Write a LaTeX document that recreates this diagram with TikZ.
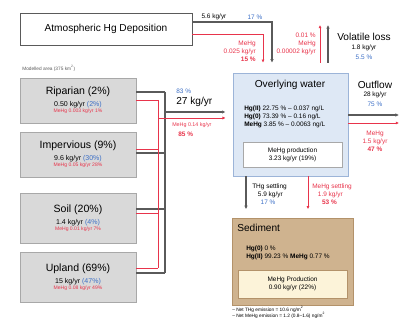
\documentclass[tikz,border=0pt]{standalone}
\usepackage{fontspec}
\setmainfont{Liberation Sans}
\usetikzlibrary{arrows.meta, positioning}

\definecolor{hgred}{HTML}{E8344B}
\definecolor{hgblue}{HTML}{3C6FC6}
\definecolor{hggray}{HTML}{5A5A5A}
\definecolor{boxfill}{HTML}{D9D9D9}
\definecolor{boxline}{HTML}{A8A8A8}
\definecolor{waterfill}{HTML}{DEE8F5}
\definecolor{waterline}{HTML}{9CB4D8}
\definecolor{sedfill}{HTML}{CFB38F}
\definecolor{sedline}{HTML}{B3926A}
\definecolor{prodfill}{HTML}{FCF3D9}

\begin{document}
\begin{tikzpicture}[
  x=0.025cm, y=-0.025cm,
  srcbox/.style={rectangle, draw=boxline, fill=boxfill, minimum width=2.9cm, inner sep=0pt, align=center, font=\fontsize{5}{5.5}\selectfont},
  titlebox/.style={rectangle, draw=hggray, fill=white, minimum width=4.3cm, minimum height=0.8cm, font=\fontsize{7.2}{8}\selectfont},
  gline/.style={hggray, line width=0.8pt},
  rline/.style={hgred, line width=0.5pt},
  garrow/.style={gline, -{Latex[length=2.5pt, width=2.5pt]}},
  rarrow/.style={rline, -{Latex[length=2.2pt, width=2.2pt]}},
  big/.style={font=\fontsize{7.2}{8}\selectfont, inner sep=0pt},
  num/.style={font=\fontsize{4.6}{5.6}\selectfont, inner sep=0pt, align=center},
  rednum/.style={num, text=hgred},
  tiny/.style={font=\fontsize{3.4}{4.4}\selectfont, inner sep=0pt, align=left}
]

% frame
\useasboundingbox (0,0) rectangle (400,320);

% atmosphere
\node[titlebox] (atm) at (106,29) {Atmospheric Hg Deposition};
\node[tiny, text=hggray, anchor=west] (area) at (22,68) {Modelled area (375 km\textsuperscript{2})};

% source areas
\node[srcbox, minimum height=1.125cm] (rip) at (78,100.5) {{\fontsize{7.5}{7.5}\selectfont Riparian (2\%)}\\[3pt]0.50 kg/yr \textcolor{hgblue}{(2\%)}\\[-1.3pt]{\fontsize{3.6}{3.6}\selectfont\color{hgred}MeHg 0.003 kg/yr 1\%}};
\node[srcbox, minimum height=1.125cm] (imp) at (78,154.5) {{\fontsize{7.5}{7.5}\selectfont Impervious (9\%)}\\[3pt]9.6 kg/yr \textcolor{hgblue}{(30\%)}\\[-1.3pt]{\fontsize{3.6}{3.6}\selectfont\color{hgred}MeHg 0.05 kg/yr 28\%}};
\node[srcbox, minimum height=1.25cm] (soil) at (78,218) {{\fontsize{7.5}{7.5}\selectfont Soil (20\%)}\\[3pt]1.4 kg/yr \textcolor{hgblue}{(4\%)}\\[-1.3pt]{\fontsize{3.6}{3.6}\selectfont\color{hgred}MeHg 0.01 kg/yr 7\%}};
\node[srcbox, minimum height=1.25cm] (upl) at (78,277) {{\fontsize{7.5}{7.5}\selectfont Upland (69\%)}\\[3pt]15 kg/yr \textcolor{hgblue}{(47\%)}\\[-1.3pt]{\fontsize{3.6}{3.6}\selectfont\color{hgred}MeHg 0.08 kg/yr 49\%}};

% lake compartments
\node[rectangle, draw=waterline, fill=waterfill, line width=0.6pt, minimum width=2.875cm, minimum height=2.575cm] (water) at (290.5,124.5) {};
\node[big] (watertitle) at (290,85) {Overlying water};
\node[num, align=left, anchor=west] (waterconc) at (244,117) {\textbf{Hg(II)} 22.75 \% -- 0.037 ng/L\\\textbf{Hg(0)} 73.39 \% -- 0.16 ng/L\\\textbf{MeHg} 3.85 \% -- 0.0063 ng/L};
\node[rectangle, draw=boxline, fill=white, minimum width=2.475cm, minimum height=0.625cm, num] (waterprod) at (292.5,154.5) {MeHg production\\3.23 kg/yr (19\%)};

\node[rectangle, draw=sedline, fill=sedfill, line width=0.6pt, minimum width=3.025cm, minimum height=2.175cm] (sed) at (292.5,261.5) {};
\node[big, anchor=west] (sedtitle) at (237,228) {Sediment};
\node[num, align=left, anchor=west] (sedconc) at (246,253) {\textbf{Hg(0)} 0 \%\\\textbf{Hg(II)} 99.23 \% \textbf{MeHg} 0.77 \%};
\node[rectangle, draw=sedline, fill=prodfill, minimum width=2.725cm, minimum height=0.7cm, num] (sedprod) at (292.5,284) {MeHg Production\\0.90 kg/yr (22\%)};
\node[tiny, anchor=north west] (notes) at (232,306) {-- Net THg emission = 10.6 ng/m\textsuperscript{2}\\-- Net MeHg emission = 1.2 (0.8--1.6) ng/m\textsuperscript{2}};

% tributary inputs
\foreach \src/\gy/\ry in {rip/92/100, imp/153/149, soil/209/213, upl/273/268}{
  \draw[gline] (\src.east |- 0,\gy) -- (165,\gy);
  \draw[rline] (\src.east |- 0,\ry) -- (158,\ry);
}
\draw[gline] (165,92) -- (165,273);
\draw[rline] (158,100) -- (158,268);
\coordinate (gbus) at (165,112);
\coordinate (rbus) at (158,118);
\draw[garrow, shorten >=5pt] (gbus) -- (water.west |- gbus);
\draw[rarrow, shorten >=5pt] (rbus) -- (water.west |- rbus);
\node[num, text=hgblue, anchor=west] (tribgp) at (176,91) {83 \%};
\node[big, anchor=west] (tribg) at (176,102) {27 kg/yr};
\node[rednum, anchor=west] (tribr) at (172,125) {\fontsize{3.8}{4}\selectfont MeHg 0.14 kg/yr};
\node[rednum, anchor=west] (tribrp) at (178,134) {\textbf{85 \%}};

% atmospheric inputs
\draw[garrow, shorten >=7pt] (atm.east |- 0,22) -| (water.north -| 272,0);
\draw[rarrow, shorten >=7pt] (atm.east |- 0,34) -| (water.north -| 263,0);
\node[num] (atmg) at (214,17) {5.6 kg/yr};
\node[num, text=hgblue] (atmgp) at (255,17) {17 \%};
\node[rednum, align=right, anchor=east] (atmr) at (256,51) {MeHg\\0.025 kg/yr\\\textbf{15 \%}};

% volatile loss
\coordinate (volg) at (328,25);
\coordinate (volr) at (320,25);
\draw[garrow, shorten <=7pt] (water.north -| volg) -- (volg);
\draw[rarrow, shorten <=7pt] (water.north -| volr) -- (volr);
\node[rednum, align=right, anchor=east] (volrt) at (316,44) {0.01 \%\\MeHg\\0.00002 kg/yr};
\node[big] (volt) at (364,37) {Volatile loss};
\node[num] (volgt) at (364,48) {1.8 kg/yr};
\node[num, text=hgblue] (volgp) at (364,57) {5.5 \%};

% outflow
\coordinate (outg) at (399,115);
\coordinate (outr) at (399,123);
\draw[garrow] (water.east |- outg) -- (outg);
\draw[rarrow] (water.east |- outr) -- (outr);
\node[big] (outt) at (375,85) {Outflow};
\node[num] (outgt) at (375,95) {28 kg/yr};
\node[num, text=hgblue] (outgp) at (375,104) {75 \%};
\node[rednum] (outrt) at (375,141) {MeHg\\1.5 kg/yr\\\textbf{47 \%}};

% settling
\draw[garrow, shorten >=6pt] (water.south -| 246,0) -- (sed.north -| 246,0);
\draw[rarrow, shorten >=6pt] (water.south -| 308,0) -- (sed.north -| 308,0);
\node[num, align=left, anchor=north west] (setg) at (252,184) {THg settling\\ \hspace{4pt}5.9 kg/yr\\ \hspace{6pt}\textcolor{hgblue}{17 \%}};
\node[rednum, align=left, anchor=north west] (setr) at (312,184) {MeHg settling\\ \hspace{4pt}1.9 kg/yr\\ \hspace{7pt}\textbf{53 \%}};

\end{tikzpicture}
\end{document}
